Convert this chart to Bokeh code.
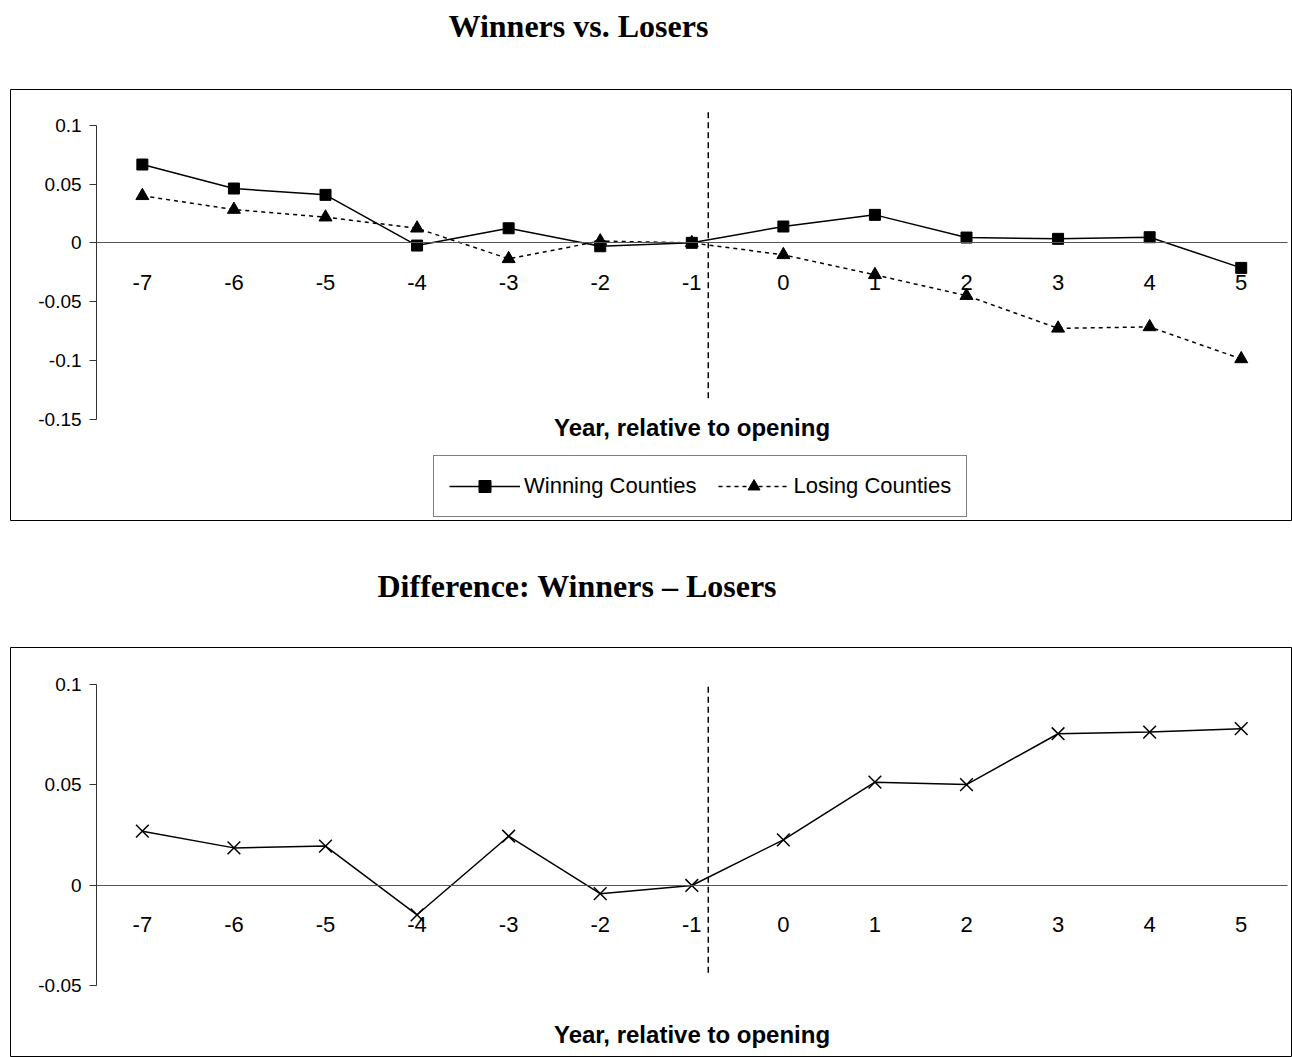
from bokeh.plotting import figure
from bokeh.models import Range1d, LinearAxis, FixedTicker, Legend, LegendItem, Title
from bokeh.layouts import column
from bokeh.embed import file_html
from bokeh.resources import INLINE

# ---------------- data ----------------
years = [-7, -6, -5, -4, -3, -2, -1, 0, 1, 2, 3, 4, 5]
winning = [0.0666, 0.0462, 0.0408, -0.0023, 0.0124, -0.0029, 0.0, 0.0139, 0.0238, 0.0045, 0.0034, 0.0048, -0.0213]
losing = [0.0400, 0.0283, 0.0218, 0.0124, -0.0136, 0.0015, 0.0, -0.0102, -0.0272, -0.0449, -0.0727, -0.0715, -0.0987]
difference = [0.0270, 0.0187, 0.0196, -0.0146, 0.0245, -0.0041, 0.0, 0.0227, 0.0514, 0.0502, 0.0755, 0.0763, 0.0780]

x_tick_labels = ["-7", "-6", "-5", "-4", "-3", "-2", "-1", "0", "1", "2", "3", "4", "5"]
top_y_ticks = [-0.15, -0.1, -0.05, 0.0, 0.05, 0.1]
top_y_labels = ["-0.15", "-0.1", "-0.05", "0", "0.05", "0.1"]
bot_y_ticks = [-0.05, 0.0, 0.05, 0.1]
bot_y_labels = ["-0.05", "0", "0.05", "0.1"]

# opening marker (vertical dashed line)
open_x = [-0.82]
top_open_y = [0.111, -0.1325]
bot_open_y = [0.0989, -0.044]

FONT = "Liberation Sans"
SERIF = "Liberation Serif"


def make_panel(title, title_offset, gap, height, border_top, border_bottom,
               y_start, y_end, y_ticks, y_labels, label_standoff):
    p = figure(width=1292, height=height, output_backend="svg", toolbar_location=None,
               x_axis_location=None, y_axis_location=None,
               x_range=Range1d(-8.44, 5.56), y_range=Range1d(y_start, y_end),
               min_border_left=10, min_border_right=0,
               min_border_top=border_top, min_border_bottom=border_bottom,
               title=title)
    p.grid.visible = False
    p.outline_line_color = "black"
    p.outline_line_width = 1
    p.background_fill_color = "white"
    p.border_fill_color = "white"
    p.title.text_font = SERIF
    p.title.text_font_style = "bold"
    p.title.text_font_size = "32px"
    p.title.text_color = "black"
    p.title.align = "left"
    p.title.offset = title_offset
    p.title.standoff = 0

    # blank spacer between the title and the framed panel
    spacer = Title(text=" ", text_font_size="10px", standoff=gap)
    p.add_layout(spacer, "above")

    yax = LinearAxis(fixed_location=-7.5, bounds=(min(y_ticks), max(y_ticks)),
                     ticker=FixedTicker(ticks=y_ticks),
                     major_label_overrides={t: l for t, l in zip(y_ticks, y_labels)})
    yax.major_tick_out = 7
    yax.major_tick_in = 0
    yax.minor_tick_out = 0
    yax.minor_tick_in = 0
    yax.axis_line_color = "#333333"
    yax.major_tick_line_color = "#333333"
    yax.major_label_text_font = FONT
    yax.major_label_text_font_size = "19px"
    yax.major_label_text_color = "black"
    yax.major_label_standoff = 8
    p.add_layout(yax, "left")

    xax = LinearAxis(fixed_location=0, bounds=(-7.5, 5.5),
                     ticker=FixedTicker(ticks=years),
                     major_label_overrides={t: l for t, l in zip(years, x_tick_labels)},
                     axis_label="Year, relative to opening")
    xax.major_tick_out = 0
    xax.major_tick_in = 0
    xax.minor_tick_out = 0
    xax.minor_tick_in = 0
    xax.axis_line_color = "#555555"
    xax.major_label_text_font = FONT
    xax.major_label_text_font_size = "22px"
    xax.major_label_text_color = "black"
    xax.major_label_standoff = 32
    xax.axis_label_text_font = FONT
    xax.axis_label_text_font_style = "bold"
    xax.axis_label_text_font_size = "24px"
    xax.axis_label_text_color = "black"
    xax.axis_label_standoff = label_standoff
    p.add_layout(xax, "below")
    return p


# ---------------- top panel ----------------
p1 = make_panel("Winners vs. Losers", 438, 33, 548, 89, 28,
                -0.2361, 0.1304, top_y_ticks, top_y_labels, 121)

p1.segment(x0=open_x, y0=[top_open_y[0]], x1=open_x, y1=[top_open_y[1]],
           line_color="black", line_width=1.5, line_dash="6 4")

lw = p1.line(years, winning, line_color="black", line_width=1.5)
sw = p1.scatter(years, winning, marker="square", size=11, fill_color="black", line_color="black")
ll = p1.line(years, losing, line_color="black", line_width=1.5, line_dash="4 4")
sl = p1.scatter(years, losing, marker="triangle", size=13, fill_color="black", line_color="black")

legend = Legend(items=[LegendItem(label="Winning Counties", renderers=[lw, sw]),
                       LegendItem(label="Losing Counties", renderers=[ll, sl])],
                location=(423, 3), orientation="horizontal")
legend.glyph_width = 71
legend.glyph_height = 30
legend.label_text_font = FONT
legend.label_text_font_size = "22px"
legend.label_text_color = "black"
legend.label_standoff = 4
legend.spacing = 22
legend.padding = 15
legend.margin = 0
legend.border_line_color = "black"
legend.border_line_width = 1
legend.background_fill_color = "white"
legend.background_fill_alpha = 1
p1.add_layout(legend)

# ---------------- bottom panel ----------------
p2 = make_panel("Difference: Winners \u2013 Losers", 367, 31, 509, 99, 0,
                -0.0856, 0.1184, bot_y_ticks, bot_y_labels, 85)

p2.segment(x0=open_x, y0=[bot_open_y[0]], x1=open_x, y1=[bot_open_y[1]],
           line_color="black", line_width=1.5, line_dash="6 4")
p2.line(years, difference, line_color="black", line_width=1.5)
p2.scatter(years, difference, marker="x", size=18, line_color="black", line_width=1.5)

layout = column(p1, p2, spacing=0)
open("out.html", "w").write(file_html(layout, INLINE))
